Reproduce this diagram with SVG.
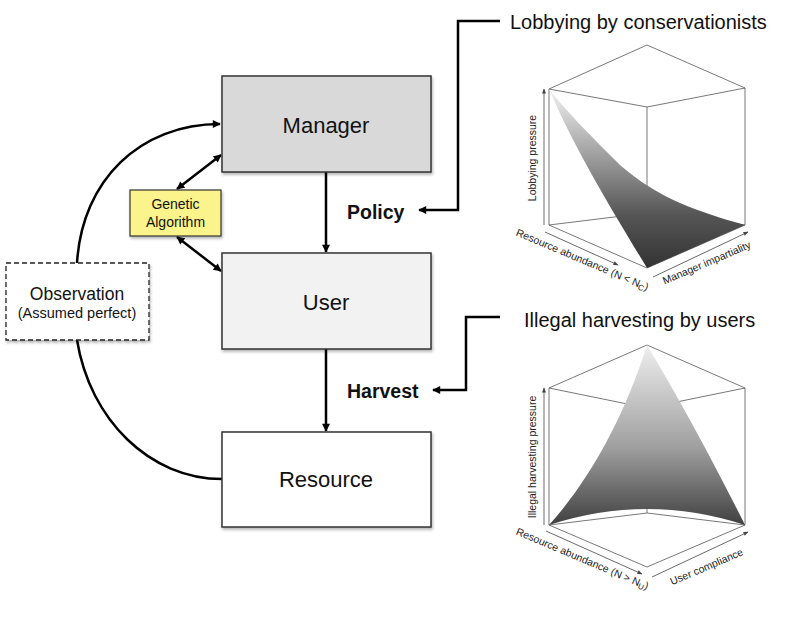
<svg xmlns="http://www.w3.org/2000/svg" width="800" height="624" viewBox="0 0 800 624">
<defs>
<style>
text{font-family:"Liberation Sans",Arial,sans-serif;fill:#111}
.box{stroke:#333;stroke-width:1.5}
.big{font-size:22px;text-anchor:middle}
.bold{font-size:19.5px;font-weight:bold}
.title{font-size:20px}
.conn{fill:none;stroke:#000;stroke-width:2.5}
.pl{fill:none;stroke:#555;stroke-width:0.8}
.ax{fill:none;stroke:#444;stroke-width:0.8}
.lab{font-size:10.5px;fill:#222}
</style>
<filter id="sh" x="-10%" y="-10%" width="125%" height="130%">
<feDropShadow dx="1" dy="2" stdDeviation="1.8" flood-color="#000" flood-opacity="0.3"/>
</filter>
<marker id="ah" viewBox="0 0 10 10" refX="9" refY="5" markerWidth="3.6" markerHeight="3.2" orient="auto-start-reverse" markerUnits="strokeWidth">
<path d="M0,0 L10,5 L0,10 z" fill="#000"/>
</marker>
<marker id="sa" viewBox="0 0 10 10" refX="9" refY="5" markerWidth="6" markerHeight="5" orient="auto" markerUnits="userSpaceOnUse">
<path d="M0,1 L10,5 L0,9 z" fill="#444"/>
</marker>
<linearGradient id="g1" gradientUnits="userSpaceOnUse" x1="0" y1="89" x2="0" y2="268">
<stop offset="0" stop-color="#f2f2f2"/>
<stop offset="0.7" stop-color="#565656"/>
<stop offset="1" stop-color="#333"/>
</linearGradient>
<linearGradient id="g2" gradientUnits="userSpaceOnUse" x1="0" y1="345" x2="0" y2="530">
<stop offset="0" stop-color="#eeeeee"/>
<stop offset="0.55" stop-color="#a0a0a0"/>
<stop offset="1" stop-color="#3a3a3a"/>
</linearGradient>
</defs>

<g id="connectors">
<line class="conn" x1="326" y1="172" x2="326" y2="252" marker-end="url(#ah)"/>
<line class="conn" x1="326" y1="349" x2="326" y2="431" marker-end="url(#ah)"/>
<line class="conn" x1="177" y1="189" x2="221" y2="155" marker-start="url(#ah)" marker-end="url(#ah)"/>
<line class="conn" x1="177" y1="237" x2="221" y2="271" marker-start="url(#ah)" marker-end="url(#ah)"/>
<path class="conn" d="M77,263 C82,180 140,124 220,124" marker-end="url(#ah)"/>
<path class="conn" d="M77,340 C90,420 150,479 222,479"/>
<polyline class="conn" points="500,21 458,21 458,210 419,210" marker-end="url(#ah)"/>
<polyline class="conn" points="500,317 466,317 466,390 433,390" marker-end="url(#ah)"/>
</g>

<g id="manager">
<rect class="box" x="222" y="76" width="209" height="96" fill="#d9d9d9" filter="url(#sh)"/>
<text class="big" x="326" y="133">Manager</text>
</g>
<g id="user">
<rect class="box" x="222" y="253" width="209" height="96" fill="#f2f2f2" filter="url(#sh)"/>
<text class="big" x="326" y="310">User</text>
</g>
<g id="resource">
<rect class="box" x="222" y="432" width="209" height="95" fill="#ffffff" filter="url(#sh)"/>
<text class="big" x="326" y="487">Resource</text>
</g>
<g id="genetic-algorithm">
<rect x="130" y="190" width="91" height="46" fill="#fbf38b" stroke="#333" stroke-width="1.2" filter="url(#sh)"/>
<text x="175.5" y="209" font-size="14" text-anchor="middle">Genetic</text>
<text x="175.5" y="227" font-size="14" text-anchor="middle">Algorithm</text>
</g>
<g id="observation">
<rect x="6" y="263" width="143" height="77" fill="#fff" stroke="#222" stroke-width="1.3" stroke-dasharray="5,3" filter="url(#sh)"/>
<text x="77" y="300" font-size="17.5" text-anchor="middle">Observation</text>
<text x="77" y="318" font-size="14.5" text-anchor="middle">(Assumed perfect)</text>
</g>
<g id="policy">
<text class="bold" x="347" y="219">Policy</text>
</g>
<g id="harvest">
<text class="bold" x="347" y="398">Harvest</text>
</g>
<g id="lobbying-title">
<text class="title" x="510" y="29">Lobbying by conservationists</text>
</g>
<g id="illegal-title">
<text class="title" x="524" y="327">Illegal harvesting by users</text>
</g>

<g id="plot-lobbying">
<path class="pl" d="M549,89 L647,45 L745,88 M549,89 L647,107 L745,88 M549,89 V225 M745,88 V225 M647,107 V213 M549,225 L647,213 L745,225 M549,225 L647,268 L745,225"/>
<path d="M549,89 C575,150 615,215 647,268 L745,225 C700,212 660,200 620,165 C590,135 565,110 549,89 Z" fill="url(#g1)"/>
<line class="ax" x1="544" y1="225" x2="544" y2="89" marker-end="url(#sa)"/>
<line class="ax" x1="545" y1="232" x2="618" y2="265" marker-end="url(#sa)"/>
<line class="ax" x1="653" y1="277" x2="748" y2="232" marker-end="url(#sa)"/>
<text class="lab" transform="translate(536,158) rotate(-90)" text-anchor="middle">Lobbying pressure</text>
<text class="lab" transform="translate(581,263) rotate(23)" text-anchor="middle">Resource abundance (N &lt; N<tspan font-size="8" baseline-shift="-2">C</tspan>)</text>
<text class="lab" transform="translate(708,266) rotate(-23)" text-anchor="middle">Manager impartiality</text>
</g>

<g id="plot-illegal">
<path class="pl" d="M549,388 L647,345 L745,388 M549,388 L647,408 L745,388 M549,388 V525 M745,388 V525 M647,408 V513 M549,525 L647,513 L745,525 M549,525 L647,567 L745,525"/>
<path d="M647,345 C625,415 590,480 549,525 Q647,493 745,525 C715,465 680,400 647,345 Z" fill="url(#g2)"/>
<line class="ax" x1="544" y1="525" x2="544" y2="388" marker-end="url(#sa)"/>
<line class="ax" x1="546" y1="531" x2="642" y2="574" marker-end="url(#sa)"/>
<line class="ax" x1="652" y1="577" x2="748" y2="532" marker-end="url(#sa)"/>
<text class="lab" transform="translate(536,457) rotate(-90)" text-anchor="middle">Illegal harvesting pressure</text>
<text class="lab" transform="translate(581,562) rotate(23)" text-anchor="middle">Resource abundance (N &gt; N<tspan font-size="8" baseline-shift="-2">U</tspan>)</text>
<text class="lab" transform="translate(708,570) rotate(-23)" text-anchor="middle">User compliance</text>
</g>
</svg>
